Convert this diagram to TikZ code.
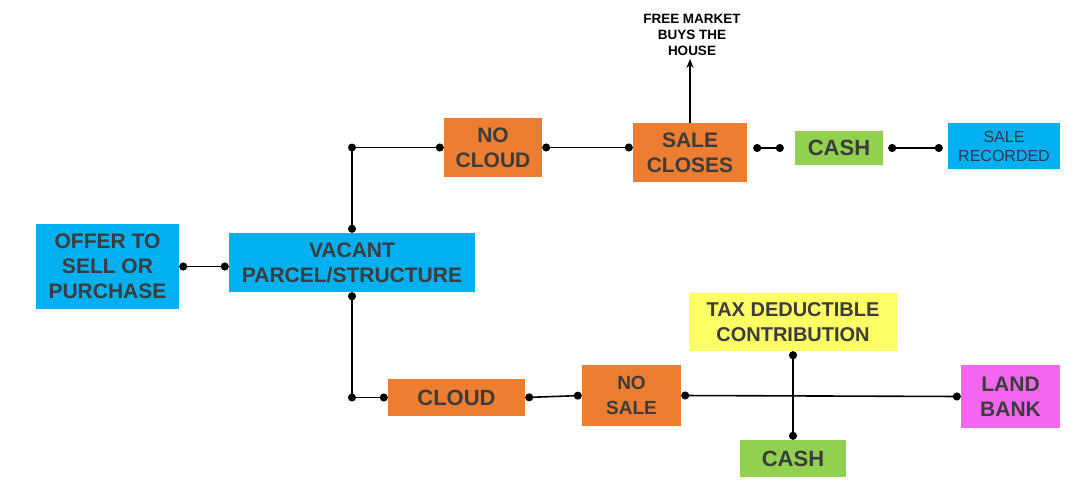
\documentclass[tikz,border=0pt]{standalone}
\usepackage{fontspec}
\setmainfont{Liberation Sans}
\usetikzlibrary{arrows.meta, calc}

\definecolor{boxblue}{HTML}{00B0F0}
\definecolor{boxorange}{HTML}{ED7D31}
\definecolor{boxgreen}{HTML}{92D050}
\definecolor{boxyellow}{HTML}{FFFF66}
\definecolor{boxpink}{HTML}{F566F0}
\definecolor{boxtext}{HTML}{3C3C3C}

\tikzset{
  box/.style={rectangle, inner sep=0pt, align=center, text=boxtext, font=\bfseries},
  link/.style={line width=1.6pt, {Circle[length=8pt]}-{Circle[length=8pt]}},
}
\newcommand{\fsz}[2]{\fontsize{#1}{#2}\selectfont}

\begin{document}
\begin{tikzpicture}[x=1pt, y=-1pt]
  \useasboundingbox (0,0) rectangle (1088,501);
  % left part
  \node[box, fill=boxblue, minimum width=143, minimum height=85, font=\bfseries\fsz{21}{25}] (offer) at (107.5,266.5) {OFFER TO\\SELL OR\\PURCHASE};
  \node[box, fill=boxblue, minimum width=246, minimum height=59, font=\bfseries\fsz{21}{25}] (vacant) at (352,262.5) {VACANT\\PARCEL/STRUCTURE};
  % upper row
  \node[box, fill=boxorange, minimum width=98, minimum height=59, font=\bfseries\fsz{21}{25}] (nocloud) at (493,147.5) {NO\\CLOUD};
  \node[box, fill=boxorange, minimum width=114, minimum height=59, font=\bfseries\fsz{21}{25}] (saleclose) at (690,152.5) {SALE\\CLOSES};
  \node[box, fill=boxgreen, minimum width=88, minimum height=34, font=\bfseries\fsz{22}{26}] (cashtop) at (839,148) {CASH};
  \node[box, fill=boxblue, minimum width=112, minimum height=46, font=\fsz{16}{19}, text=boxtext!90!blue] (salerec) at (1004,146) {SALE\\RECORDED};
  \node[align=center, inner sep=0pt, font=\bfseries\fsz{13.5}{16}] (market) at (692,35) {FREE MARKET\\BUYS THE\\HOUSE};
  % lower row
  \node[box, fill=boxorange, minimum width=137, minimum height=37, font=\bfseries\fsz{22}{26}] (cloud) at (456.5,397.5) {CLOUD};
  \node[box, fill=boxorange, minimum width=99, minimum height=61, font=\bfseries\fsz{19}{25}] (nosale) at (631.5,395.5) {NO\\SALE};
  \node[box, fill=boxyellow, minimum width=208, minimum height=58, font=\bfseries\fsz{20}{25}] (tax) at (793,322) {TAX DEDUCTIBLE\\CONTRIBUTION};
  \node[box, fill=boxgreen, minimum width=106, minimum height=37, font=\bfseries\fsz{22}{26}] (cashbot) at (793,458.5) {CASH};
  \node[box, fill=boxpink, minimum width=99, minimum height=63, font=\bfseries\fsz{21}{25}] (landbank) at (1010.5,396.5) {LAND\\BANK};

  % connectors
  \draw[link] (offer.east) -- (offer.east -| vacant.west);
  \draw[link] (vacant.north) |- (nocloud.west);
  \fill (vacant.north |- nocloud.west) circle (4);
  \draw[link] (vacant.south) |- (cloud.west);
  \fill (vacant.south |- cloud.west) circle (4);
  \draw[link] (nocloud.east) -- (nocloud.east -| saleclose.west);
  \draw[link, shorten <=6pt, shorten >=11pt] (cashtop.west -| saleclose.east) -- (cashtop.west);
  \draw[link, shorten <=5pt, shorten >=5pt] (cashtop.east) -- (cashtop.east -| salerec.west);
  \draw[line width=1.6pt, -{Stealth[length=9pt, width=7pt]}, shorten >=3pt] (saleclose.north) -- (saleclose.north |- market.south);
  \draw[link] (cloud.east) -- (nosale.west);
  \draw[link] (nosale.east) -- (landbank.west);
  \draw[link] (tax.south) -- (cashbot.north);
\end{tikzpicture}
\end{document}
